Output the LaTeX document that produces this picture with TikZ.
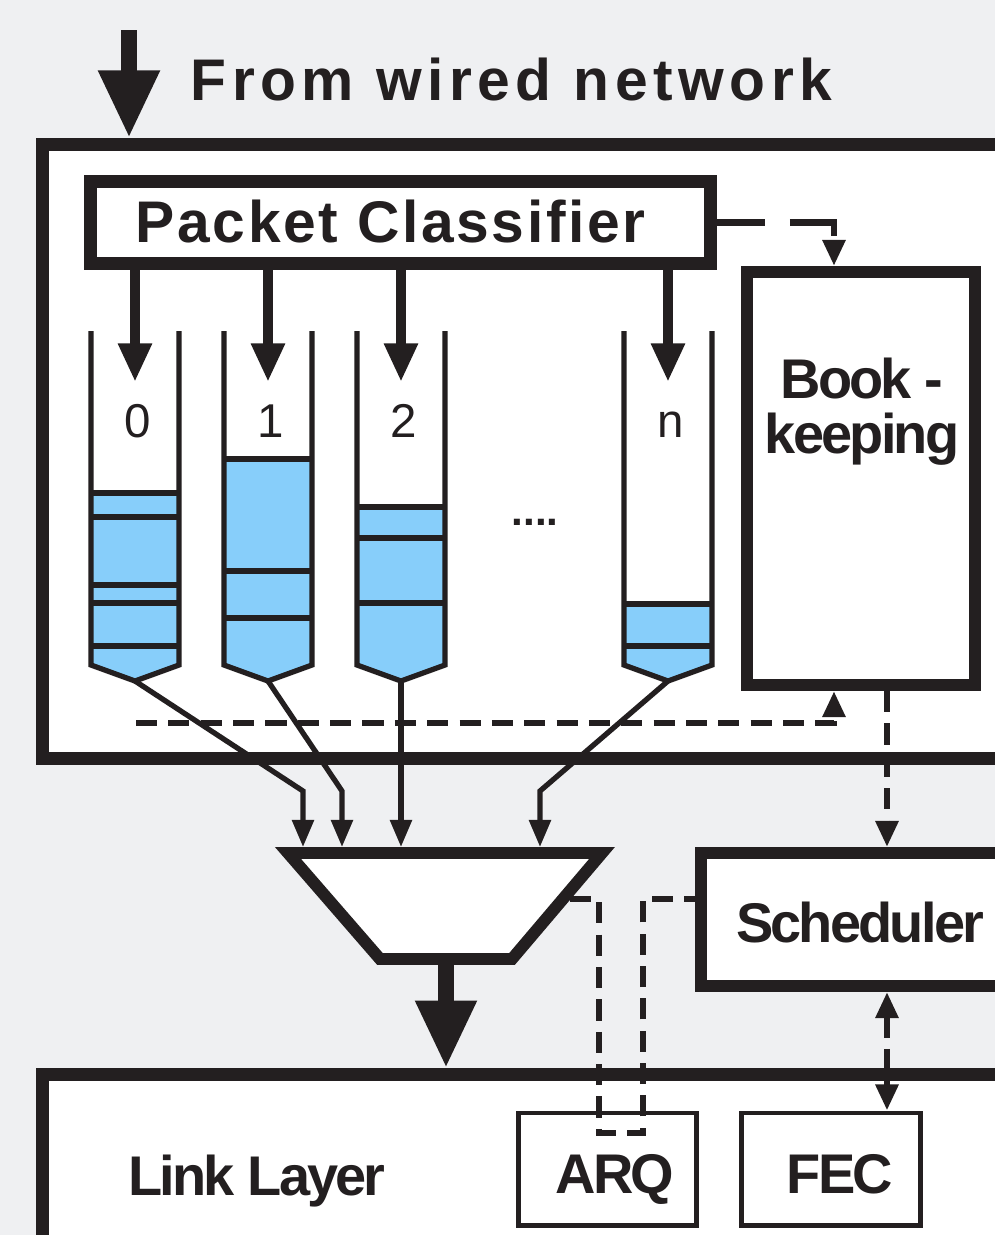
\documentclass[tikz,border=0pt]{standalone}
\usepackage{fontspec}
\setmainfont{Liberation Sans}
\newfontfamily\spacedfont[LetterSpace=9.5]{Liberation Sans}
\newfontfamily\classfont[LetterSpace=4.5]{Liberation Sans}
\newfontfamily\tightfont[LetterSpace=-5]{Liberation Sans}
\definecolor{ink}{RGB}{35,31,32}
\definecolor{paper}{RGB}{239,240,242}
\definecolor{qblue}{RGB}{135,206,250}
\usetikzlibrary{arrows.meta, positioning, calc}

\tikzset{
  frame/.style={draw=ink, line width=3.7pt, fill=white, inner sep=0pt},
  unit/.style={draw=ink, line width=3.4pt, fill=white, inner sep=0pt},
  subunit/.style={draw=ink, line width=1.4pt, fill=white, inner sep=0pt},
  wall/.style={draw=ink, line width=1.5pt},
  bigflow/.style={draw=ink, line width=4.8pt, -{Triangle[length=19.3pt, width=16.2pt]}},
  feed/.style={draw=ink, line width=2.85pt, -{Triangle[length=11pt, width=9pt]}},
  merge/.style={draw=ink, line width=1.5pt, -{Triangle[length=7.7pt, width=6pt]}},
  ctrl/.style={draw=ink, line width=1.8pt, dash pattern=on 6pt off 3.2pt},
  ctrltip/.style={-{Triangle[length=7.4pt, width=6.2pt]}},
  lbl/.style={font=\tightfont\bfseries\fontsize{15.9}{19}\selectfont, text=ink, inner sep=0pt},
}

\begin{document}
\begin{tikzpicture}[x=0.01cm, y=-0.01cm]
    \useasboundingbox (0,0) rectangle (995,1235);
    \clip (0,0) rectangle (995,1235);
    \fill[paper] (0,0) rectangle (995,1235);

    % outer frames
    \node[frame, minimum width=9.77cm, minimum height=6.13cm] (mainbox) at (531.5,451.5) {};
    \node[frame, minimum width=9.77cm, minimum height=1.85cm] (linklayer) at (531.5,1167.5) {};

    % incoming traffic
    \coordinate (wired) at (129,30);
    \draw[bigflow] (wired) -- (wired |- mainbox.north);
    \node[anchor=base west, font=\spacedfont\bfseries\fontsize{16.7}{20}\selectfont, text=ink, inner sep=0pt] (wiredlbl) at (190,100) {From wired network};

    % classifier and bookkeeping
    \node[frame, minimum width=6.19cm, minimum height=0.81cm] (classifier) at (400.5,222.5) {};
    \node[anchor=base west, font=\classfont\bfseries\fontsize{16.7}{20}\selectfont, text=ink, inner sep=0pt] (classlbl) at (135,242) {Packet Classifier};
    \node[unit, minimum width=2.28cm, minimum height=4.13cm] (bk) at (861,478.5) {};
    \node[lbl, anchor=base] (bktop) at (862,398) {Book -};
    \node[lbl, anchor=base] (bkbot) at (862,453) {keeping};

    % queues
    \foreach \q/\c/\lvl/\seps in {0/135/493/{517,585,603,646}, 1/268/459/{571,618}, 2/401/507/{538,603}, n/668/604/{646}} {
        \fill[qblue] (\c-44,\lvl) -- (\c+44,\lvl) -- (\c+44,665) -- (\c,681) -- (\c-44,665) -- cycle;
        \draw[wall] (\c-44,331) -- (\c-44,665) -- (\c,681) -- (\c+44,665) -- (\c+44,331);
        \draw[wall] (\c-44,\lvl) -- (\c+44,\lvl);
        \foreach \s in \seps
            \draw[wall] (\c-44,\s) -- (\c+44,\s);
        \node[font=\fontsize{13.5}{16}\selectfont, text=ink, anchor=base, inner sep=0pt] (lbl\q) at (\c+3,437) {\q};
        \coordinate (tip\q) at (\c,681);
        \draw[feed] (classifier.south -| tip\q) -- (\c,382);
    }
    \node[anchor=base, font=\bfseries\fontsize{12}{14}\selectfont, text=ink, inner sep=0pt] (dots) at (535,525) {....};

    % multiplexer
    \coordinate (muxnw) at (288,853);
    \coordinate (muxne) at (602,853);
    \coordinate (muxse) at (512,959);
    \coordinate (muxsw) at (380,959);
    \draw[unit, line join=miter] (muxnw) -- (muxne) -- (muxse) -- (muxsw) -- cycle;
    \coordinate (in0) at (303,847);
    \coordinate (in1) at (342,847);
    \coordinate (in2) at (401,847);
    \coordinate (inn) at (540,847);
    \draw[merge] (tip0) -- ($(in0)+(0,-56)$) -- (in0);
    \draw[merge] (tip1) -- ($(in1)+(0,-56)$) -- (in1);
    \draw[merge] (tip2) -- (in2);
    \draw[merge] (tipn) -- ($(inn)+(0,-56)$) -- (inn);
    \coordinate (muxs) at (446,959);
    \draw[bigflow] (muxs) -- (muxs |- linklayer.north);

    % scheduler and link layer units
    \node[unit, minimum width=3.18cm, minimum height=1.33cm] (sched) at (860,919.5) {};
    \node[lbl, anchor=base] (schedlbl) at (860,942) {Scheduler};
    \node[lbl, anchor=base] (lltext) at (257,1195) {Link Layer};
    \node[subunit, minimum width=1.77cm, minimum height=1.12cm] (arq) at (607.5,1169) {};
    \node[lbl, anchor=base] (arqlbl) at (615,1193) {ARQ};
    \node[subunit, minimum width=1.78cm, minimum height=1.12cm] (fec) at (831,1169) {};
    \node[lbl, anchor=base] (feclbl) at (840,1193) {FEC};

    % control paths
    \coordinate (bkin) at (834,0);
    \coordinate (ctl) at (887,0);
    \coordinate (deq) at (136,723);
    \draw[ctrl, dash pattern=on 13.7pt off 7.1pt on 16.5pt off 2.6pt, ctrltip] (classifier.east) -| (bk.north -| bkin);
    \draw[ctrl, ctrltip] (deq) -| (bk.south -| bkin);
    \draw[ctrl, ctrltip] (bk.south -| ctl) -- (sched.north -| ctl);
    \draw[ctrl, {Triangle[length=7.4pt, width=6.2pt]}-{Triangle[length=7.4pt, width=6.2pt]}] (sched.south -| ctl) -- (fec.north -| ctl);
    \coordinate (muxarq) at (570,899);
    \coordinate (arql) at (599,1133);
    \coordinate (arqr) at (643,1133);
    \draw[ctrl, line width=1.7pt] (muxarq) -| (arql) -- (arqr) |- (sched.west |- muxarq);
\end{tikzpicture}
\end{document}
